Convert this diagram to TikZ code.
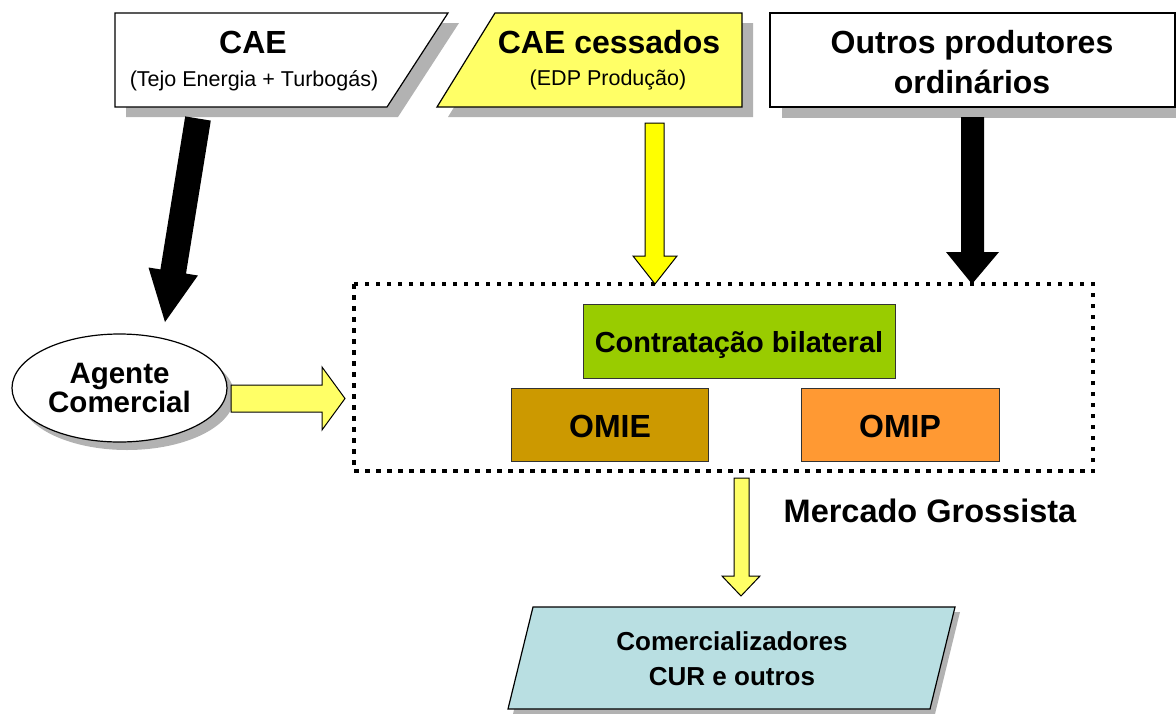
\documentclass[tikz,border=0pt]{standalone}
\usepackage{fontspec}
\setmainfont{Liberation Sans}
\usetikzlibrary{shapes.geometric}
\definecolor{shad}{HTML}{B2B2B2}
\definecolor{lyel}{HTML}{FFFF66}
\definecolor{syel}{HTML}{FFFF00}
\definecolor{cgreen}{HTML}{99CC00}
\definecolor{comie}{HTML}{CC9900}
\definecolor{comip}{HTML}{FF9933}
\definecolor{cblue}{HTML}{B9DFE2}
\definecolor{bord}{HTML}{333333}
\tikzset{
  boxline/.style={draw=black, line width=1.2pt},
  shadowfill/.style={fill=shad},
  blockarrow/.style={draw=black, line width=1pt, line join=miter},
  innerbox/.style={draw=bord, line width=1pt},
  bigtxt/.style={font=\fontsize{32}{40}\selectfont\bfseries},
  subtxt/.style={font=\fontsize{21.5}{26}\selectfont},
}
\begin{document}
\begin{tikzpicture}[x=1pt,y=-1pt]
\useasboundingbox (0,0) rectangle (1176,713);

% ---- CAE (parallelogram, right side slanted)
\fill[shadowfill] (126,23) -- (459,23) -- (398,117) -- (126,117) -- cycle;
\draw[boxline, fill=white] (115,13) -- (448,13) -- (387,107) -- (115,107) -- cycle;
\node[bigtxt, anchor=base] (cae) at (253,53) {CAE};
\node[subtxt] (caesub) at (254,81) {(Tejo Energia + Turbogás)};

% ---- CAE cessados
\fill[shadowfill] (506,23) -- (753,23) -- (753,117) -- (448,117) -- cycle;
\draw[boxline, fill=lyel] (495,13) -- (742,13) -- (742,107) -- (437,107) -- cycle;
\node[bigtxt, anchor=base] (caec) at (609,53) {CAE cessados};
\node[subtxt] (caecsub) at (608,80) {(EDP Produção)};

% ---- Outros produtores
\fill[shadowfill] (782,24) rectangle (1190,118);
\draw[boxline, fill=white] (770,13) rectangle (1175,107);
\node[bigtxt, align=center] (outros) at (972,62.5) {Outros produtores\\ordinários};

% ---- Agente Comercial
\fill[shadowfill] (127,396) ellipse [x radius=107.5, y radius=54];
\node[ellipse, draw=black, line width=1.2pt, fill=white, minimum width=215pt, minimum height=108pt, inner sep=0pt,
      align=center, font=\fontsize{29.5}{29.5}\selectfont\bfseries] (agente) at (119.5,388) {Agente\\Comercial};

% ---- Mercado grossista dotted frame
\draw[line width=4.5pt, dash pattern=on 4.5pt off 6.5pt] (354,284) rectangle (1093,471);
\coordinate (frameN1) at (655,284);
\coordinate (frameN2) at (972,284);

\draw[innerbox, fill=cgreen] (583,304) rectangle (895,378);
\node[font=\fontsize{29}{34}\selectfont\bfseries, anchor=base] (contr) at (739,352.5) {Contratação bilateral};
\draw[innerbox, fill=comie] (511,388) rectangle (708,461);
\node[bigtxt, anchor=base] (omie) at (610,437) {OMIE};
\draw[innerbox, fill=comip] (801,388) rectangle (999,461);
\node[bigtxt, anchor=base] (omip) at (900,437) {OMIP};

\node[font=\fontsize{32.5}{40}\selectfont\bfseries, anchor=base] (merc) at (930,522) {Mercado Grossista};

% ---- Comercializadores
\fill[shadowfill] (513,714) -- (538,612) -- (960,612) -- (935,714) -- cycle;
\draw[boxline, fill=cblue] (508,709) -- (533,607) -- (955,607) -- (930,709) -- cycle;
\node[font=\fontsize{26}{35}\selectfont\bfseries, align=center] (comerc) at (732,659) {Comercializadores\\CUR e outros};

% ---- block arrows
% CAE -> Agente (black, slanted)
\fill[black] (185.2,116.4) -- (210.8,120.6) -- (186,273.6) -- (197.9,275.5) -- (165,322)
   -- (148.5,267.5) -- (160.4,269.4) -- cycle;
% CAE cessados -> frame (yellow)
\draw[blockarrow, fill=syel] (645,123) -- (664,123) -- (664,256) -- (677,256) -- (frameN1)
   -- (633,256) -- (645,256) -- cycle;
% Outros -> frame (black)
\fill[black] (961,117) -- (984,117) -- (984,252) -- (999,252) -- (frameN2)
   -- (946,252) -- (961,252) -- cycle;
% Agente -> frame (yellow)
\draw[blockarrow, fill=lyel] (231,385) -- (322,385) -- (322,367) -- (345,398.5) -- (322,430)
   -- (322,412) -- (231,412) -- cycle;
% frame -> Comercializadores (yellow)
\draw[blockarrow, fill=lyel] (734,478) -- (749,478) -- (749,576) -- (760,576) -- (741,596)
   -- (722,576) -- (734,576) -- cycle;
\end{tikzpicture}
\end{document}
